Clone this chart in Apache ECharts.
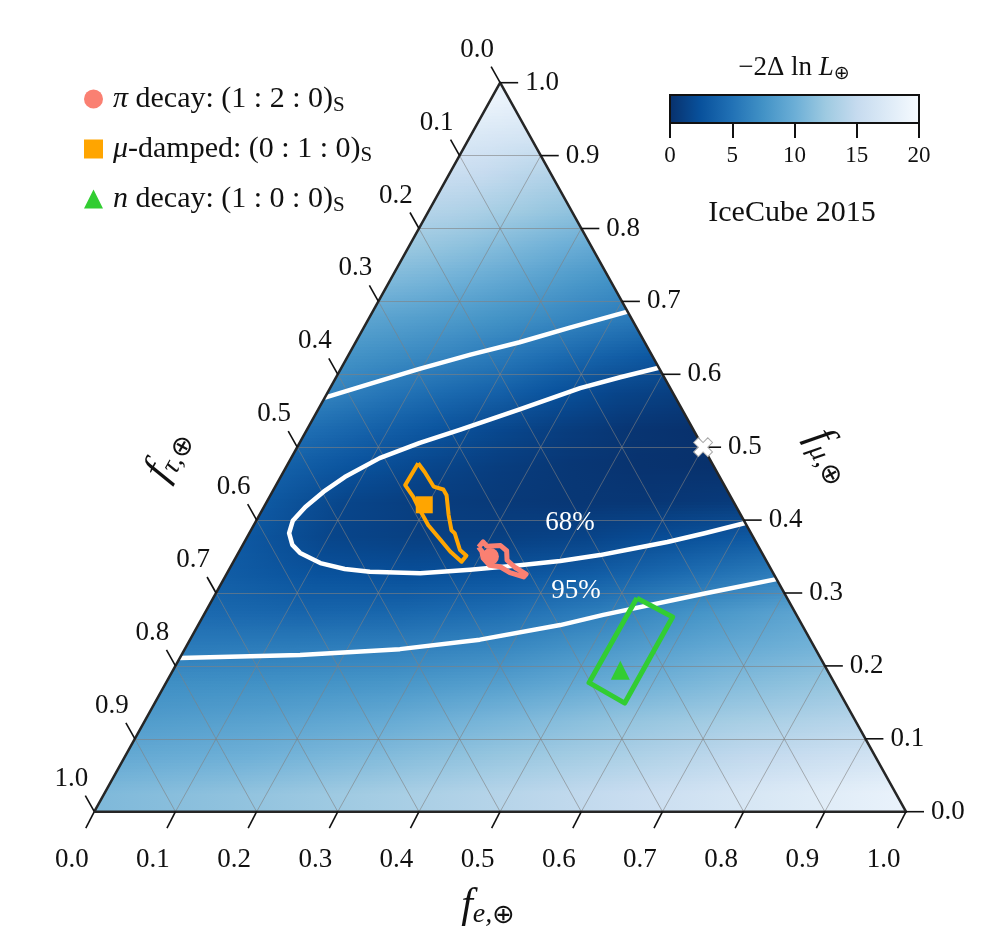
<!DOCTYPE html>
<html>
<head>
<meta charset="utf-8">
<script src="https://cdn.jsdelivr.net/npm/echarts@6/dist/echarts.min.js"></script>
<style>
  html, body { margin: 0; background: #fff; }
  #chart { width: 1000px; height: 950px; }
</style>
</head>
<body>
<div id="chart"></div>
<script>
// all flavour points are [f_e, f_mu]; f_tau = 1 - f_e - f_mu
const tickValues = [0, 0.1, 0.2, 0.3, 0.4, 0.5, 0.6, 0.7, 0.8, 0.9, 1.0];
const tickLabels = ["0.0", "0.1", "0.2", "0.3", "0.4", "0.5", "0.6", "0.7", "0.8", "0.9", "1.0"];
const gridValues = [0.1, 0.2, 0.3, 0.4, 0.5, 0.6, 0.7, 0.8, 0.9];

const contour68 = [
  [0.391, 0.609], [0.350, 0.596], [0.308, 0.581], [0.248, 0.552], [0.189, 0.524],
  [0.148, 0.506], [0.109, 0.485], [0.079, 0.459], [0.063, 0.439], [0.051, 0.418],
  [0.045, 0.399], [0.049, 0.382], [0.061, 0.366], [0.076, 0.355], [0.108, 0.341],
  [0.142, 0.333], [0.175, 0.329], [0.238, 0.327], [0.297, 0.332], [0.355, 0.338],
  [0.402, 0.344], [0.447, 0.352], [0.480, 0.360], [0.521, 0.370], [0.561, 0.382],
  [0.604, 0.396],
];
const contour95Upper = [
  [0, 0.568], [0.046, 0.587], [0.096, 0.607], [0.150, 0.627], [0.202, 0.644],
  [0.254, 0.664], [0.314, 0.686],
];
const contour95Lower = [
  [0, 0.211], [0.073, 0.213], [0.146, 0.215], [0.265, 0.223], [0.357, 0.236],
  [0.446, 0.256], [0.492, 0.270], [0.601, 0.299], [0.681, 0.319],
];

const muRegion = [
  [0.160, 0.478], [0.174, 0.466], [0.195, 0.446], [0.209, 0.442], [0.217, 0.434],
  [0.233, 0.407], [0.247, 0.386], [0.253, 0.382], [0.271, 0.359], [0.283, 0.351],
  [0.281, 0.343], [0.260, 0.357], [0.240, 0.373], [0.215, 0.393], [0.194, 0.414],
  [0.177, 0.432], [0.159, 0.448], [0.160, 0.478],
];
const piRegion = [
  [0.292, 0.363], [0.294, 0.370], [0.302, 0.364], [0.318, 0.365], [0.329, 0.358],
  [0.336, 0.345], [0.351, 0.335], [0.369, 0.326], [0.368, 0.322], [0.348, 0.328],
  [0.332, 0.336], [0.318, 0.338], [0.305, 0.348], [0.299, 0.357], [0.292, 0.363],
];
const nRegion = [[0.522, 0.293], [0.579, 0.267], [0.579, 0.149], [0.521, 0.177], [0.522, 0.293]];

const piPoint = [0.313, 0.350];
const muPoint = [0.196, 0.421];
const nPoint = [0.551, 0.194];
const bestFit = [0.5, 0.5];
const percentLabels = [
  { name: "68%", pos: [0.388, 0.396] },
  { name: "95%", pos: [0.442, 0.303] },
];

// -2 dlnL (f_mu), left edge -> right edge
const fieldRows = [0.025, 0.075, 0.125, 0.175, 0.225, 0.275, 0.325, 0.375, 0.425, 0.475,
  0.525, 0.575, 0.625, 0.675, 0.725, 0.775, 0.825, 0.875, 0.925, 0.975];
const fieldValues = [
  [11.0, 11.8, 12.8, 14.0, 15.3, 17.0, 18.6],
  [9.6, 10.2, 11.1, 12.2, 13.4, 14.8, 16.2],
  [8.4, 8.9, 9.6, 10.7, 11.9, 13.0, 14.0],
  [7.3, 7.5, 7.9, 8.7, 9.9, 11.1, 12.1],
  [5.8, 5.9, 6.1, 6.7, 8.0, 9.4, 10.4],
  [4.3, 4.0, 4.1, 4.7, 5.9, 7.6, 9.0],
  [3.4, 2.6, 2.4, 2.7, 3.4, 4.6, 5.9],
  [3.0, 1.6, 1.2, 1.2, 1.5, 2.3, 3.2],
  [3.1, 1.6, 1.0, 0.7, 0.5, 0.5, 0.8],
  [3.7, 2.6, 1.7, 1.0, 0.5, 0.2, 0.05],
  [4.8, 3.8, 2.8, 1.8, 1.0, 0.4, 0.1],
  [6.4, 5.4, 4.5, 3.7, 2.5, 1.6, 1.1],
  [7.6, 7.0, 6.4, 5.6, 4.7, 3.8, 3.0],
  [9.0, 8.6, 8.1, 7.5, 6.9, 6.2, 5.6],
  [10.8, 10.4, 9.9, 9.3, 8.7, 8.0, 7.4],
  [12.3, 12.0, 11.6, 11.1, 10.6, 10.1, 9.6],
  [13.9, 13.7, 13.4, 13.0, 12.6, 12.2, 11.9],
  [15.4, 15.2, 15.0, 14.7, 14.4, 14.1, 13.9],
  [17.0, 16.9, 16.8, 16.7, 16.6, 16.5, 16.4],
  [18.8, 18.8, 18.7, 18.7, 18.6, 18.6, 18.5],
];
const colorbarTicks = [0, 5, 10, 15, 20];

const legendLabels = {
  pi: "{i|π}{r| decay: (1 : 2 : 0)}{s|S}",
  mu: "{i|μ}{r|-damped: (0 : 1 : 0)}{s|S}",
  n: "{i|n}{r| decay: (1 : 0 : 0)}{s|S}",
};

const FONT = '"Liberation Serif", "DejaVu Serif", serif';
const blues = ["#08306b", "#08519c", "#2171b5", "#4292c6", "#6baed6", "#9ecae1", "#c6dbef", "#deebf7", "#f7fbff"];
const vmin = colorbarTicks[0];
const vmax = colorbarTicks[colorbarTicks.length - 1];
const SHADE_STEPS = 12;

const toXY = ([fe, fmu]) => [fe + fmu / 2, fmu];

const hexRgb = (c) => [1, 3, 5].map((k) => parseInt(c.slice(k, k + 2), 16));
const rgbFor = (v) => {
  const t = (Math.max(vmin, Math.min(vmax, v)) - vmin) / (vmax - vmin) * (blues.length - 1);
  const i = Math.min(blues.length - 2, Math.floor(t));
  const a = hexRgb(blues[i]);
  const b = hexRgb(blues[i + 1]);
  return a.map((x, k) => x + (b[k] - x) * (t - i));
};
const blend = (a, b, s) => a.map((x, k) => x + (b[k] - x) * s);
const css = (c) => "rgb(" + c.map(Math.round).join(",") + ")";

const gridSegments = [];
gridValues.forEach((k) => {
  gridSegments.push([[0, k], [1 - k, k]]);
  gridSegments.push([[k, 0], [k, 1 - k]]);
  gridSegments.push([[1 - k, 0], [0, 1 - k]]);
});

const axisDefs = [
  { base: (v) => [v, 0], tick: [-8.5, 16.5], label: [-22.5, 48], align: "center" },
  { base: (v) => [1 - v, v], tick: [18, 0], label: [25, 0], align: "left" },
  { base: (v) => [0, 1 - v], tick: [-9, -16], label: [-23, -33], align: "center" },
];

const outline = (name, pts, color, width, z) => ({
  name,
  type: "line",
  data: pts.map(toXY),
  symbol: "none",
  clip: false,
  silent: true,
  z,
  lineStyle: { color, width, join: "round" },
});

// one shaded band of the triangle between f_mu = lo and hi
const band = (api, lo, hi, colors) => {
  const top = Math.min(1, hi + 0.0015);
  const pts = [[0, lo], [1 - lo, lo], [1 - top, top], [0, top]].map((p) => api.coord(toXY(p)));
  const m = (lo + hi) / 2;
  const a = api.coord(toXY([0, m]));
  const b = api.coord(toXY([1 - m, m]));
  const stops = colors.map((c, k) => ({ offset: k / (colors.length - 1), color: css(c) }));
  return {
    type: "polygon",
    shape: { points: pts },
    style: { fill: new echarts.graphic.LinearGradient(a[0], 0, b[0], 0, stops, true) },
  };
};

const chart = echarts.init(document.getElementById("chart"));

const option = {
  animation: false,
  backgroundColor: "#fff",
  grid: [
    { left: 94.3, top: 82.7, width: 811.7, height: 729 },
    { left: 670, top: 95, width: 249, height: 28 },
  ],
  xAxis: [
    { type: "value", min: 0, max: 1, show: false },
    {
      type: "value", gridIndex: 1, min: vmin, max: vmax, interval: 5,
      axisLine: { show: false },
      splitLine: { show: false },
      axisTick: { length: 15, lineStyle: { color: "#111", width: 2 } },
      axisLabel: { fontSize: 23, fontFamily: FONT, color: "#111", margin: 21, showMinLabel: true, showMaxLabel: true },
    },
  ],
  yAxis: [
    { type: "value", min: 0, max: 1, show: false },
    { type: "value", gridIndex: 1, min: 0, max: 1, show: false },
  ],
  legend: {
    data: [
      { name: "pi", icon: "circle" },
      { name: "mu", icon: "rect" },
      { name: "n", icon: "triangle" },
    ],
    orient: "vertical",
    left: 79,
    top: 79,
    itemWidth: 19,
    itemHeight: 19,
    itemGap: 18,
    selectedMode: false,
    formatter: (name) => legendLabels[name],
    textStyle: {
      color: "#111",
      fontFamily: FONT,
      fontSize: 30,
      rich: {
        i: { fontFamily: FONT, fontSize: 30, fontStyle: "italic", lineHeight: 34, padding: [0, 0, 0, 5], color: "#111" },
        r: { fontFamily: FONT, fontSize: 30, lineHeight: 34, color: "#111" },
        s: { fontFamily: FONT, fontSize: 21, lineHeight: 14, verticalAlign: "bottom", color: "#111" },
      },
    },
  },
  graphic: [
    {
      type: "text", x: 794, y: 68,
      style: {
        text: "{t|−2Δ ln }{l|L}{o|⊕}",
        align: "center", verticalAlign: "middle",
        rich: {
          t: { fontFamily: FONT, fontSize: 27, lineHeight: 32, fill: "#111" },
          l: { fontFamily: FONT, fontSize: 27, fontStyle: "italic", lineHeight: 32, fill: "#111" },
          o: { fontFamily: "DejaVu Sans", fontSize: 19, lineHeight: 12, verticalAlign: "bottom", fill: "#111" },
        },
      },
    },
    {
      type: "text", x: 792, y: 213,
      style: { text: "IceCube 2015", font: "30px " + FONT, fill: "#111", align: "center", verticalAlign: "middle" },
    },
    ...[
      { sub: "e,", x: 488, y: 906, rot: 0 },
      { sub: "τ,", x: 168, y: 455, rot: 60.9 },
      { sub: "μ,", x: 830, y: 456, rot: -60.9 },
    ].map((t) => ({
      type: "text",
      x: t.x,
      y: t.y,
      rotation: (t.rot * Math.PI) / 180,
      style: {
        text: "{f|f}{s|" + t.sub + "}{o|⊕}",
        align: "center",
        verticalAlign: "middle",
        rich: {
          f: { fontFamily: FONT, fontSize: 42, fontStyle: "italic", lineHeight: 46, fill: "#111" },
          s: { fontFamily: FONT, fontSize: 28, fontStyle: "italic", lineHeight: 22, verticalAlign: "bottom", fill: "#111" },
          o: { fontFamily: "DejaVu Sans", fontSize: 27, lineHeight: 24, verticalAlign: "bottom", fill: "#111" },
        },
      },
    })),
  ],
  series: [
    {
      type: "custom",
      silent: true,
      z: 1,
      data: fieldRows.map((m, i) => [m, i]),
      renderItem: (params, api) => {
        const i = api.value(1);
        const m = fieldRows[i];
        const cur = fieldValues[i].map(rgbFor);
        const children = [];
        if (i === 0) children.push(band(api, 0, m, cur));
        if (i === fieldRows.length - 1) {
          children.push(band(api, m, 1, cur));
        } else {
          const next = fieldValues[i + 1].map(rgbFor);
          const m2 = fieldRows[i + 1];
          for (let k = 0; k < SHADE_STEPS; k++) {
            const s = (k + 0.5) / SHADE_STEPS;
            const lo = m + ((m2 - m) * k) / SHADE_STEPS;
            const hi = m + ((m2 - m) * (k + 1)) / SHADE_STEPS;
            children.push(band(api, lo, hi, cur.map((c, j) => blend(c, next[j], s))));
          }
        }
        return { type: "group", children };
      },
    },
    {
      type: "lines",
      coordinateSystem: "cartesian2d",
      silent: true,
      z: 2,
      data: gridSegments.map((s) => ({ coords: s.map(toXY) })),
      lineStyle: { color: "rgba(128,128,128,0.6)", width: 1, opacity: 1 },
    },
    outline("c68", contour68, "#fff", 4.5, 3),
    outline("c95u", contour95Upper, "#fff", 4.5, 3),
    outline("c95l", contour95Lower, "#fff", 4.5, 3),
    outline("muRegion", muRegion, "#ffa500", 4, 4),
    outline("piRegion", piRegion, "#fa8072", 5, 4),
    outline("nRegion", nRegion, "#32cd32", 5, 4),
    outline("frame", [[0, 0], [1, 0], [0, 1], [0, 0]], "#262626", 2.5, 5),
    ...axisDefs.map((def) => ({
      type: "custom",
      silent: true,
      z: 6,
      data: tickValues.map((v, i) => [v, i]),
      renderItem: (params, api) => {
        const p = api.coord(toXY(def.base(api.value(0))));
        return {
          type: "group",
          children: [
            {
              type: "line",
              shape: { x1: p[0], y1: p[1], x2: p[0] + def.tick[0], y2: p[1] + def.tick[1] },
              style: { stroke: "#111", lineWidth: 1.6 },
            },
            {
              type: "text",
              x: p[0] + def.label[0],
              y: p[1] + def.label[1],
              style: {
                text: tickLabels[api.value(1)],
                font: "27px " + FONT,
                fill: "#111",
                align: def.align,
                verticalAlign: "middle",
              },
            },
          ],
        };
      },
    })),
    {
      name: "pi", type: "scatter", z: 7, clip: false, silent: true,
      data: [toXY(piPoint)], symbol: "circle", symbolSize: 17,
      itemStyle: { color: "#fa8072", opacity: 1 },
    },
    {
      name: "mu", type: "scatter", z: 7, clip: false, silent: true,
      data: [toXY(muPoint)], symbol: "rect", symbolSize: 17,
      itemStyle: { color: "#ffa500", opacity: 1 },
    },
    {
      name: "n", type: "scatter", z: 7, clip: false, silent: true,
      data: [toXY(nPoint)], symbol: "triangle", symbolSize: 19,
      itemStyle: { color: "#32cd32", opacity: 1 },
    },
    {
      name: "best", type: "scatter", z: 8, clip: false, silent: true,
      data: [toXY(bestFit)],
      symbol: "path://M2,0H4V2H6V4H4V6H2V4H0V2H2Z", symbolRotate: 45, symbolSize: 20,
      itemStyle: { color: "#fff", borderColor: "#aaa", borderWidth: 1, opacity: 1 },
    },
    {
      type: "custom",
      silent: true,
      z: 8,
      data: percentLabels.map((d, i) => [...toXY(d.pos), i]),
      renderItem: (params, api) => {
        const p = api.coord([api.value(0), api.value(1)]);
        return {
          type: "text",
          x: p[0],
          y: p[1],
          style: {
            text: percentLabels[api.value(2)].name,
            font: "27px " + FONT,
            fill: "#fff",
            align: "center",
            verticalAlign: "middle",
          },
        };
      },
    },
    {
      type: "custom",
      xAxisIndex: 1,
      yAxisIndex: 1,
      silent: true,
      z: 3,
      data: [[vmin, vmax]],
      renderItem: (params, api) => {
        const p0 = api.coord([api.value(0), 0]);
        const p1 = api.coord([api.value(1), 1]);
        return {
          type: "rect",
          shape: { x: p0[0], y: p1[1], width: p1[0] - p0[0], height: p0[1] - p1[1] },
          style: {
            fill: new echarts.graphic.LinearGradient(0, 0, 1, 0,
              blues.map((c, k) => ({ offset: k / (blues.length - 1), color: c }))),
            stroke: "#111",
            lineWidth: 2,
          },
        };
      },
    },
  ],
};

chart.setOption(option);
</script>
</body>
</html>
